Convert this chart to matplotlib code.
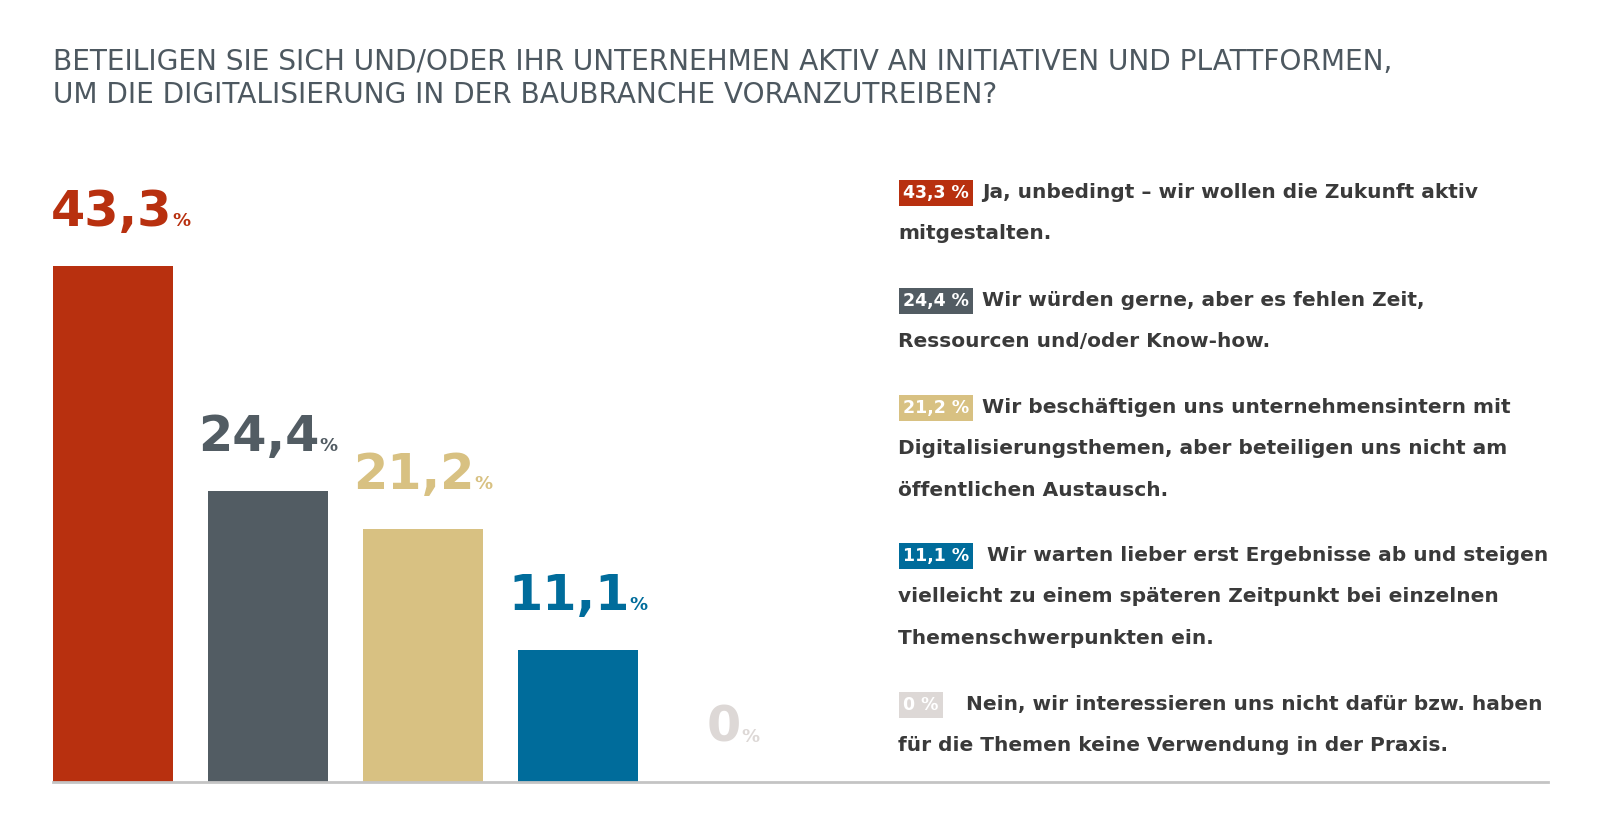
import matplotlib
matplotlib.use("Agg")
import matplotlib.pyplot as plt

# ---- data ----
values = [43.3, 24.4, 21.2, 11.1, 0.0]
value_labels = ["43,3", "24,4", "21,2", "11,1", "0"]
box_labels = ["43,3 %", "24,4 %", "21,2 %", "11,1 %", "0 %"]
colors = ["#B8300F", "#525C63", "#D8C182", "#006C9B", "#DDD8D6"]
answers = [
    ["Ja, unbedingt – wir wollen die Zukunft aktiv", "mitgestalten."],
    ["Wir würden gerne, aber es fehlen Zeit,", "Ressourcen und/oder Know-how."],
    ["Wir beschäftigen uns unternehmensintern mit",
     "Digitalisierungsthemen, aber beteiligen uns nicht am",
     "öffentlichen Austausch."],
    ["Wir warten lieber erst Ergebnisse ab und steigen",
     "vielleicht zu einem späteren Zeitpunkt bei einzelnen",
     "Themenschwerpunkten ein."],
    ["Nein, wir interessieren uns nicht dafür bzw. haben",
     "für die Themen keine Verwendung in der Praxis."],
]
title_lines = [
    "BETEILIGEN SIE SICH UND/ODER IHR UNTERNEHMEN AKTIV AN INITIATIVEN UND PLATTFORMEN,",
    "UM DIE DIGITALISIERUNG IN DER BAUBRANCHE VORANZUTREIBEN?",
]

W, H = 1600, 836
fig = plt.figure(figsize=(16, 8.36), dpi=100)
fig.patch.set_facecolor("white")
FAM = ["DejaVu Sans"]

def fx(px):
    return px / W

def fy(py):
    return 1 - py / H

# ---- bars ----
base_px = 782
ax = fig.add_axes([0, (H - base_px) / H, 1, base_px / H])
c0, step = 113, 155
ax.set_xlim(-c0 / step, (W - c0) / step)
ax.set_ylim(0, base_px / 11.92)
ax.axis("off")
xs = list(range(len(values)))
ax.bar(xs, values, width=120 / step, color=colors, linewidth=0)
ax.axhline(0, xmin=53 / W, xmax=1548 / W, color="#C4C4C4", lw=2, clip_on=False)

num_texts, pct_texts = [], []
for x, v, lab, col in zip(xs, values, value_labels, colors):
    t1 = ax.annotate(lab, xy=(x, v), xytext=(0, 40), textcoords="offset pixels",
                     ha="left", va="baseline", color=col, fontsize=35.5,
                     family=FAM, fontweight="bold")
    t2 = ax.annotate("%", xy=(x, v), xytext=(0, 40), textcoords="offset pixels",
                     ha="left", va="baseline", color=col, fontsize=13,
                     family=FAM, fontweight="bold")
    num_texts.append(t1)
    pct_texts.append(t2)

fig.canvas.draw()
r = fig.canvas.get_renderer()
for i, (t1, t2) in enumerate(zip(num_texts, pct_texts)):
    w1 = t1.get_window_extent(r).width
    w2 = t2.get_window_extent(r).width
    total = w1 + w2
    start = -total / 2
    if i == 0:
        start = max(start, -62)  # first label starts at the bar's left edge
    t1.xyann = (start, 40)
    t2.xyann = (start + w1, 40)

# ---- title ----
for i, line in enumerate(title_lines):
    fig.text(fx(53), fy(70 + 33 * i), line, ha="left", va="baseline",
             fontsize=20.2, color="#4D5860", family=FAM)

# ---- legend / answers ----
baselines = [[198, 239], [306, 347], [413, 454, 496], [561, 602, 644], [710, 751]]
first_x = [982, 982, 982, 987, 966]
for k in range(len(answers)):
    b0 = baselines[k][0]
    fig.text(fx(903), fy(b0), box_labels[k], ha="left", va="baseline",
             fontsize=12.5, color="white", fontweight="bold", family=FAM,
             bbox=dict(boxstyle="square,pad=0.25", fc=colors[k], ec="none"))
    for j, line in enumerate(answers[k]):
        x = first_x[k] if j == 0 else 898
        fig.text(fx(x), fy(baselines[k][j]), line, ha="left", va="baseline",
                 fontsize=14.5, color="#3A3A3A", fontweight="bold", family=FAM)

fig.savefig("out.png", dpi=100, facecolor="white")
